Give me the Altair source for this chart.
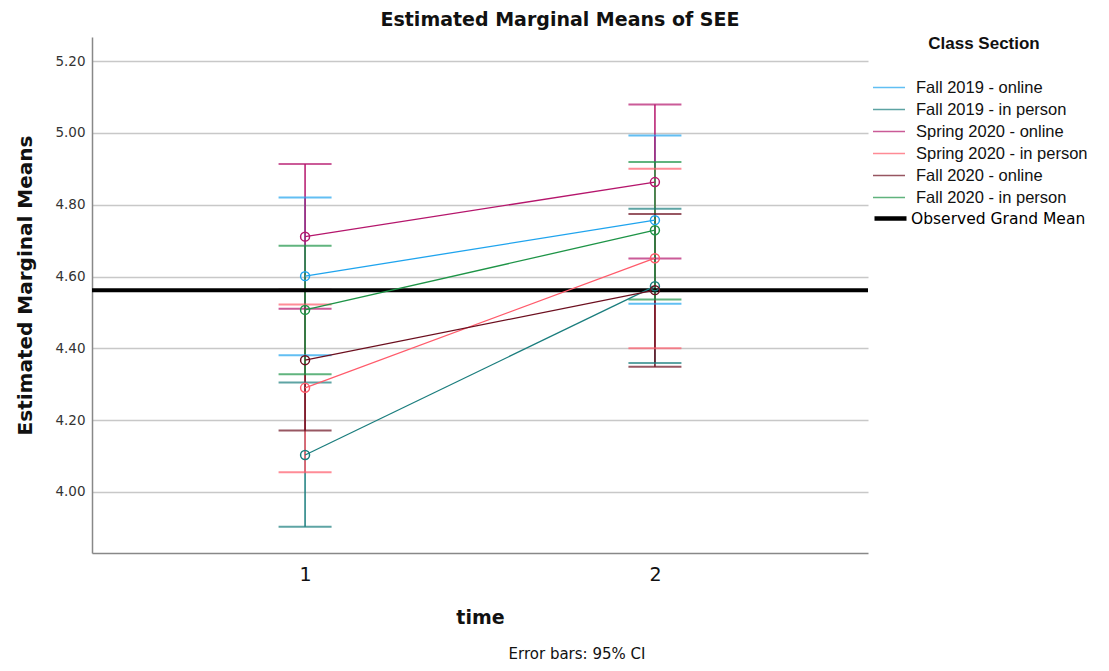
import altair as alt
import pandas as pd

series = ["Fall 2019 - online", "Fall 2019 - in person", "Spring 2020 - online",
          "Spring 2020 - in person", "Fall 2020 - online", "Fall 2020 - in person"]
colors = ["#1fa4ee", "#1a7d7d", "#b5166c", "#ff5b6b", "#6c0f1f", "#1e9447"]
times = [1, 2]
mean_t1 = [4.601, 4.103, 4.711, 4.290, 4.367, 4.507]
lo_t1 = [4.381, 3.903, 4.510, 4.055, 4.171, 4.328]
hi_t1 = [4.820, 4.305, 4.913, 4.522, 4.563, 4.686]
mean_t2 = [4.757, 4.573, 4.863, 4.651, 4.562, 4.729]
lo_t2 = [4.524, 4.359, 4.650, 4.400, 4.349, 4.536]
hi_t2 = [4.993, 4.789, 5.079, 4.900, 4.774, 4.919]
grand_mean_label = ["Observed Grand Mean"]
grand_mean = [4.562]
y_ticks = [4.0, 4.2, 4.4, 4.6, 4.8, 5.0, 5.2]

rows = []
for i, s in enumerate(series):
    rows.append({"series": s, "time": 1, "mean": mean_t1[i], "lo": lo_t1[i], "hi": hi_t1[i]})
    rows.append({"series": s, "time": 2, "mean": mean_t2[i], "lo": lo_t2[i], "hi": hi_t2[i]})
df = pd.DataFrame(rows)
gm = pd.DataFrame({"label": grand_mean_label, "y": grand_mean})
note = pd.DataFrame({"t": ["Error bars: 95% CI"]})

FONT = "DejaVu Sans"
xscale = alt.Scale(domain=[0.391, 2.609], nice=False, zero=False)
yscale = alt.Scale(domain=[3.83, 5.267], nice=False, zero=False)
xaxis = alt.Axis(values=times, format="d", title="time", grid=False, ticks=False,
                 domainColor="#888888", domainWidth=1.5, labelFont=FONT, labelFontSize=19,
                 labelColor="#111111", labelPadding=12, labelFlush=False,
                 titleFont=FONT, titleFontSize=19, titleFontWeight="bold", titleColor="#111111",
                 titlePadding=24)
yaxis = alt.Axis(values=y_ticks, format=".2f", title="Estimated Marginal Means", grid=True,
                 gridColor="#c8c8c8", gridWidth=1.5, ticks=False, domainColor="#888888",
                 domainWidth=1.5, labelFont=FONT, labelFontSize=13.5, labelColor="#333333",
                 labelPadding=7, titleFont=FONT, titleFontSize=20, titleFontWeight="bold",
                 titleColor="#111111", titleX=-67, titleY=248, titleAngle=-90,
                 titleBaseline="middle", titleAlign="center")


def X():
    return alt.X("time:Q", scale=xscale, axis=xaxis)


def Y(field):
    return alt.Y(field, type="quantitative", scale=yscale, axis=yaxis)


color = alt.Color("series:N", scale=alt.Scale(domain=series, range=colors),
                  legend=alt.Legend(title="Class Section", orient="none", legendX=788, legendY=-1.5,
                                    symbolType="M-2,0H2", symbolSize=256, symbolStrokeWidth=1.5,
                                    symbolFillColor="transparent",
                                    labelFont="Liberation Sans", labelFontSize=16.5,
                                    labelColor="#111111", labelOffset=18, rowPadding=4,
                                    titleFont="Liberation Sans", titleFontSize=17,
                                    titleFontWeight="bold", titleColor="#111111", titlePadding=26,
                                    titleAnchor="middle", labelLimit=300))

base = alt.Chart(df)
bars = base.mark_rule(strokeWidth=1.5).encode(x=X(), y=Y("lo"), y2="hi", color=color)
caps = base.transform_fold(["lo", "hi"], as_=["k", "v"]).mark_tick(
    orient="horizontal", size=53, thickness=2).encode(x=X(), y=Y("v"), color=color)
gmline = alt.Chart(gm).mark_rule(strokeWidth=4).encode(
    y=Y("y"),
    stroke=alt.Stroke("label:N", scale=alt.Scale(domain=grand_mean_label, range=["#000000"]),
                      legend=alt.Legend(title=None, orient="none", legendX=788, legendY=171,
                                        symbolType="M-2,0H2", symbolSize=256,
                                        symbolStrokeWidth=4.5, labelFont=FONT,
                                        labelFontSize=15.5, labelColor="#000000",
                                        labelOffset=10, labelLimit=300)))
lines = base.mark_line(strokeWidth=1.3).encode(x=X(), y=Y("mean"), color=color)
points = base.mark_point(filled=False, size=80, strokeWidth=1.5, opacity=1).encode(
    x=X(), y=Y("mean"), color=color)
foot = alt.Chart(note).mark_text(font=FONT, fontSize=15, color="#111111").encode(
    text="t:N", x=alt.value(485), y=alt.value(617))

chart = alt.layer(bars, caps, gmline, lines, points, foot).properties(
    width=776, height=516,
    padding={"left": 84, "top": 29, "right": 224, "bottom": 110},
    autosize=alt.AutoSizeParams(type="none"),
    background="white",
    title=alt.TitleParams("Estimated Marginal Means of SEE", font=FONT, fontSize=19,
                          fontWeight="bold", color="#111111", anchor="middle", frame="group",
                          dx=80, dy=22, offset=13, baseline="alphabetic"),
).configure_view(stroke="transparent", strokeWidth=0)

chart.save("out.html", embed_options={"renderer": "svg", "actions": False})
